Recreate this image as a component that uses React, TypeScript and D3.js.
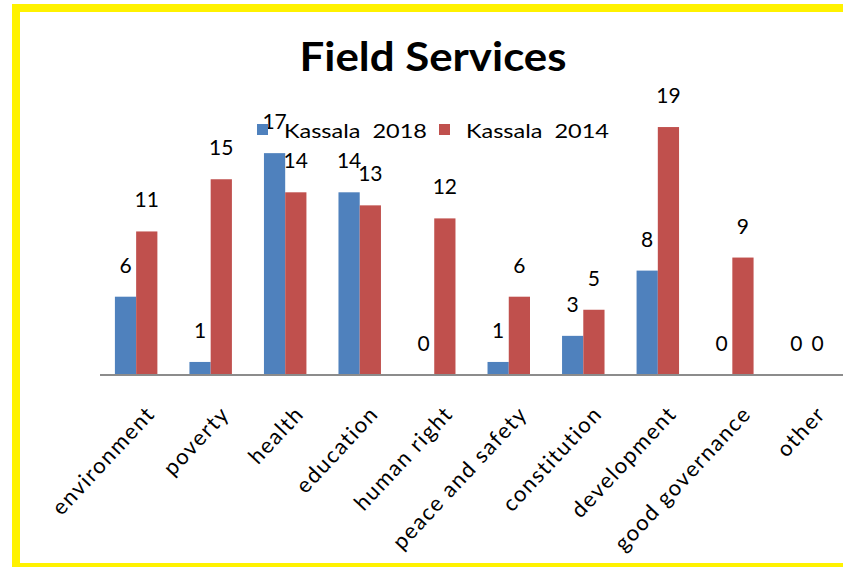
import * as d3 from 'd3';

const categories = ['environment', 'poverty', 'health', 'education', 'human right', 'peace and safety', 'constitution', 'development', 'good governance', 'other'];
const seriesNames = ['Kassala  2018', 'Kassala  2014'];
const kassala2018 = [6, 1, 17, 14, 0, 1, 3, 8, 0, 0];
const kassala2014 = [11, 15, 14, 13, 12, 6, 5, 19, 9, 0];
const colors = ['#4f81bd', '#c0504d'];

const W = 843;
const H = 567;
const font = 'Lato, "Open Sans", sans-serif';

export default function App() {
  const series = [kassala2018, kassala2014];
  const x0 = d3.scaleBand<string>().domain(categories).range([100, 843]).paddingInner(0.43).paddingOuter(0.2);
  const x1 = d3.scaleBand<number>().domain([0, 1]).range([0, x0.bandwidth()]);
  const y = d3.scaleLinear().domain([0, 20]).range([375, 114]);

  return (
    <svg width={W} height={H} style={{ position: 'absolute', left: 0, top: 0, background: '#fff' }} fontFamily={font}>
      <rect x={16} y={8} width={W + 100} height={559} fill="none" stroke="#fff200" strokeWidth={8} />
      <text x={433} y={71} textAnchor="middle" fontSize={40} fontWeight="bold" fill="#000" textLength={267} lengthAdjust="spacingAndGlyphs">Field Services</text>

      {categories.map((c, i) => (
        <g key={c}>
          {series.map((s, k) => {
            const bx = (x0(c) ?? 0) + (x1(k) ?? 0);
            const bw = x1.bandwidth();
            return (
              <g key={k}>
                <rect x={bx} y={y(s[i])} width={bw} height={y(0) - y(s[i])} fill={colors[k]} />
                <text x={bx + bw / 2} y={y(s[i]) - 24} textAnchor="middle" fontSize={21} fill="#000">{s[i]}</text>
              </g>
            );
          })}
        </g>
      ))}

      <line x1={100} x2={W} y1={375} y2={375} stroke="#8c8c8c" strokeWidth={2} />

      {categories.map((c) => {
        const cx = (x0(c) ?? 0) + x0.bandwidth() / 2;
        return (
          <text key={c} transform={`translate(${cx + 20},${415}) rotate(-47)`} textAnchor="end" fontSize={22} letterSpacing={1.5} fill="#000">{c}</text>
        );
      })}

      {seriesNames.map((n, k) => {
        const lx = k === 0 ? 257 : 439;
        return (
          <g key={n}>
            <rect x={lx} y={124} width={11} height={11} fill={colors[k]} />
            <text x={lx + 27} y={138} fontSize={19} fill="#000" style={{ whiteSpace: 'pre' }} textLength={143} lengthAdjust="spacingAndGlyphs">{n}</text>
          </g>
        );
      })}
    </svg>
  );
}
